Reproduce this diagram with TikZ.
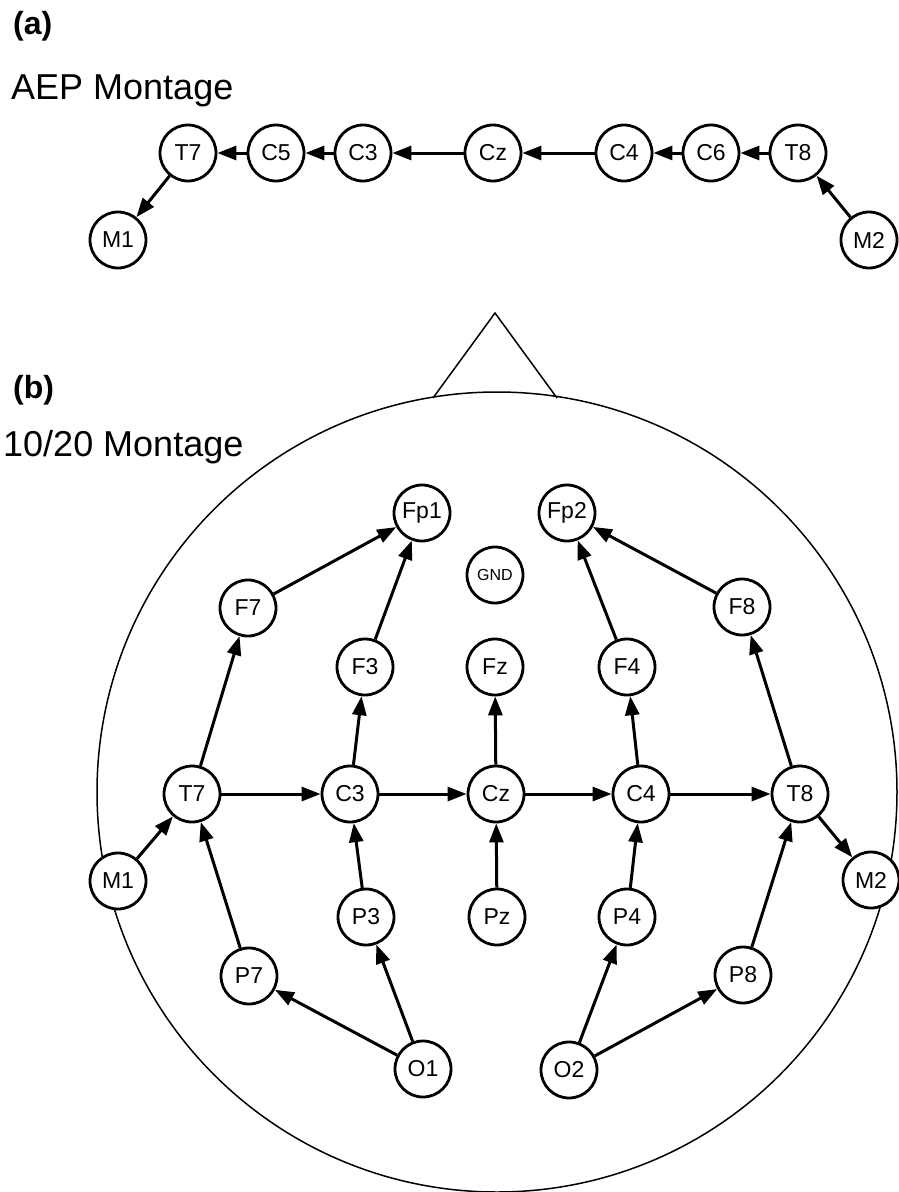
\documentclass[tikz,border=0pt]{standalone}
\usepackage{fontspec}
\setmainfont{Liberation Sans}
\usetikzlibrary{arrows.meta}

\begin{document}
\begin{tikzpicture}[x=1pt,y=-1pt,
  electrode/.style={circle,draw,line width=2.8pt,fill=white,minimum size=56pt,
    inner sep=0pt,font=\fontsize{23}{23}\selectfont},
  gndnode/.style={electrode,font=\fontsize{16}{16}\selectfont},
  link/.style={line width=3pt,-{Triangle[length=19pt,width=14pt]}},
  outline/.style={line width=1.5pt,line join=miter},
  panel/.style={anchor=base west,inner sep=0pt,font=\fontsize{32}{32}\selectfont\bfseries},
  heading/.style={anchor=base west,inner sep=0pt,font=\fontsize{36}{36}\selectfont}]
\useasboundingbox (0,0) rectangle (898,1192);

% ---------- (a) AEP montage ----------
\node[panel]   (la) at (13,34) {(a)};
\node[heading] (ha) at (11,99) {AEP Montage};

\node[electrode] (aT7) at (188,153) {T7};
\node[electrode] (aC5) at (276,153) {C5};
\node[electrode] (aC3) at (363,153) {C3};
\node[electrode] (aCz) at (493,153) {Cz};
\node[electrode] (aC4) at (624,153) {C4};
\node[electrode] (aC6) at (711,153) {C6};
\node[electrode] (aT8) at (798,153) {T8};
\node[electrode] (aM1) at (118,240) {M1};
\node[electrode] (aM2) at (869,240) {M2};

\draw[link] (aM2) -- (aT8);
\draw[link] (aT8) -- (aC6);
\draw[link] (aC6) -- (aC4);
\draw[link] (aC4) -- (aCz);
\draw[link] (aCz) -- (aC3);
\draw[link] (aC3) -- (aC5);
\draw[link] (aC5) -- (aT7);
\draw[link] (aT7) -- (aM1);

% ---------- (b) 10/20 montage ----------
\node[panel]   (lb) at (13,398) {(b)};
\node[heading] (hb) at (3,456) {10/20 Montage};

% head outline with nose
\coordinate (nose) at (495,313);
\coordinate (noseL) at (433,398);
\coordinate (noseR) at (557,398);
\draw[outline] (noseL) -- (nose) -- (noseR);
\draw[outline] (497,792) circle[radius=400];

\node[electrode] (Fp1) at (422,513) {Fp1};
\node[electrode] (Fp2) at (567,513) {Fp2};
\node[gndnode]   (GND) at (495,575) {GND};
\node[electrode] (F7)  at (248,608) {F7};
\node[electrode] (F8)  at (742,607) {F8};
\node[electrode] (F3)  at (365,667) {F3};
\node[electrode] (Fz)  at (495,667) {Fz};
\node[electrode] (F4)  at (627,667) {F4};
\node[electrode] (T7)  at (192,794) {T7};
\node[electrode] (C3)  at (350,794) {C3};
\node[electrode] (Cz)  at (496,794) {Cz};
\node[electrode] (C4)  at (641,794) {C4};
\node[electrode] (T8)  at (800,794) {T8};
\node[electrode] (M1)  at (118,881) {M1};
\node[electrode] (M2)  at (871,880) {M2};
\node[electrode] (P3)  at (366,917) {P3};
\node[electrode] (Pz)  at (497,917) {Pz};
\node[electrode] (P4)  at (627,917) {P4};
\node[electrode] (P7)  at (249,976) {P7};
\node[electrode] (P8)  at (743,975) {P8};
\node[electrode] (O1)  at (423,1069) {O1};
\node[electrode] (O2)  at (569,1070) {O2};

% frontal chains
\draw[link] (F7) -- (Fp1);
\draw[link] (F3) -- (Fp1);
\draw[link] (F4) -- (Fp2);
\draw[link] (F8) -- (Fp2);
\draw[link] (T7) -- (F7);
\draw[link] (C3) -- (F3);
\draw[link] (Cz) -- (Fz);
\draw[link] (C4) -- (F4);
\draw[link] (T8) -- (F8);
% central chain
\draw[link] (M1) -- (T7);
\draw[link] (T7) -- (C3);
\draw[link] (C3) -- (Cz);
\draw[link] (Cz) -- (C4);
\draw[link] (C4) -- (T8);
\draw[link] (T8) -- (M2);
% parietal / occipital chains
\draw[link] (P7) -- (T7);
\draw[link] (P3) -- (C3);
\draw[link] (Pz) -- (Cz);
\draw[link] (P4) -- (C4);
\draw[link] (P8) -- (T8);
\draw[link] (O1) -- (P7);
\draw[link] (O1) -- (P3);
\draw[link] (O2) -- (P4);
\draw[link] (O2) -- (P8);
\end{tikzpicture}
\end{document}
